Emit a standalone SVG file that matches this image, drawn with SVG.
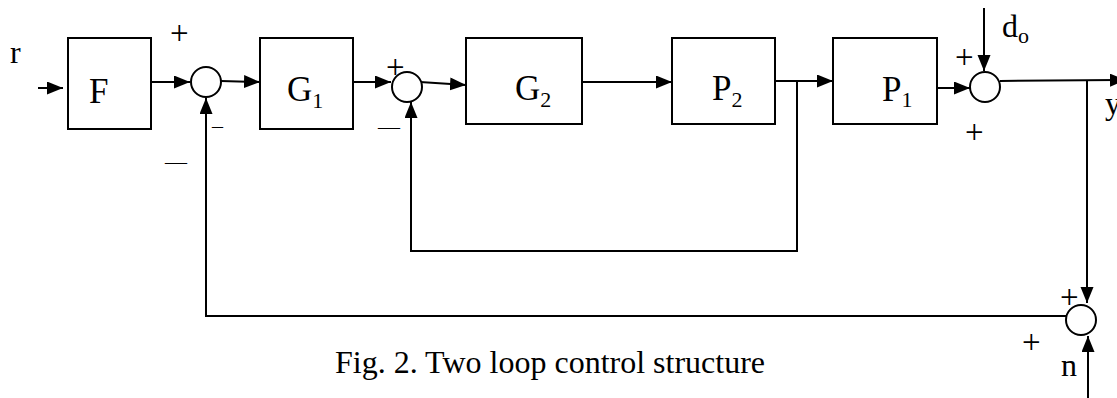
<svg xmlns="http://www.w3.org/2000/svg" width="1117" height="398" viewBox="0 0 1117 398">
<style>
.box{fill:#fff;stroke:#000;stroke-width:2}
.sum{fill:#fff;stroke:#000;stroke-width:2}
.ln{fill:none;stroke:#000;stroke-width:2}
.t{font-family:"Liberation Serif","Times New Roman",serif;fill:#000}
.big{font-size:35px}
.sub{font-size:22px}
.sg{font-size:32px}
.pl{font-size:33px}
.cap{font-size:32px}
</style>
<defs>
<marker id="ah" markerUnits="userSpaceOnUse" markerWidth="18" markerHeight="14" refX="16" refY="6.5" orient="auto">
<path d="M0,0 L16,6.5 L0,13 Z" fill="#000"/>
</marker>
</defs>
<rect width="1117" height="398" fill="#fff"/>
<g id="connectors">
<path class="ln" d="M38,88 L63,88" marker-end="url(#ah)"/>
<path class="ln" d="M151,82 L190,82" marker-end="url(#ah)"/>
<path class="ln" d="M221,81 L260,82" marker-end="url(#ah)"/>
<path class="ln" d="M353,82 L391,82" marker-end="url(#ah)"/>
<path class="ln" d="M420,82 L466,85" marker-end="url(#ah)"/>
<path class="ln" d="M582,82 L672,82" marker-end="url(#ah)"/>
<path class="ln" d="M775,81 L833,81" marker-end="url(#ah)"/>
<path class="ln" d="M937,88 L970,88" marker-end="url(#ah)"/>
<path class="ln" d="M984,8 L984,71" marker-end="url(#ah)"/>
<path class="ln" d="M1000,81 L1126,80" marker-end="url(#ah)"/>
<path class="ln" d="M1087,80 L1087,303" marker-end="url(#ah)"/>
<path class="ln" d="M1088,398 L1088,336" marker-end="url(#ah)"/>
<path class="ln" d="M797,81 L797,251 L411,251 L411,102" marker-end="url(#ah)"/>
<path class="ln" d="M1066,316 L206,316 L206,98" marker-end="url(#ah)"/>
</g>
<g id="F">
<rect class="box" x="68" y="38" width="83" height="91"/>
<text class="t big" x="89" y="103">F</text>
</g>
<g id="sum1">
<circle class="sum" cx="206" cy="82" r="15"/>
</g>
<g id="G1">
<rect class="box" x="260" y="38" width="93" height="91"/>
<text class="t big" x="287" y="101">G<tspan class="sub" dy="7">1</tspan></text>
</g>
<g id="sum2">
<circle class="sum" cx="407" cy="87" r="15"/>
</g>
<g id="G2">
<rect class="box" x="466" y="38" width="116" height="86"/>
<text class="t big" x="515" y="100">G<tspan class="sub" dy="7">2</tspan></text>
</g>
<g id="P2">
<rect class="box" x="672" y="38" width="103" height="86"/>
<text class="t big" x="712" y="100">P<tspan class="sub" dy="7">2</tspan></text>
</g>
<g id="P1">
<rect class="box" x="833" y="38" width="104" height="86"/>
<text class="t big" x="882" y="101">P<tspan class="sub" dy="6">1</tspan></text>
</g>
<g id="sum3">
<circle class="sum" cx="985" cy="87" r="15"/>
</g>
<g id="sum4">
<circle class="sum" cx="1081" cy="320" r="15"/>
</g>
<g id="labels">
<text class="t sg" x="10" y="63">r</text>
<text class="t pl" x="170" y="44">+</text>
<text class="t" x="212" y="133" font-size="22">–</text>
<text class="t sub" x="165" y="169">—</text>
<text class="t pl" x="386" y="78">+</text>
<text class="t sub" x="378" y="134">—</text>
<text class="t pl" x="955" y="68">+</text>
<text class="t pl" x="965" y="143">+</text>
<text class="t sg" x="1002" y="37">d<tspan class="sub" dy="6">o</tspan></text>
<text class="t sg" x="1105" y="114">y</text>
<text class="t pl" x="1060" y="308">+</text>
<text class="t pl" x="1022" y="353">+</text>
<text class="t sg" x="1061" y="376">n</text>
<text class="t cap" x="335" y="373">Fig. 2. Two loop control structure</text>
</g>
</svg>
